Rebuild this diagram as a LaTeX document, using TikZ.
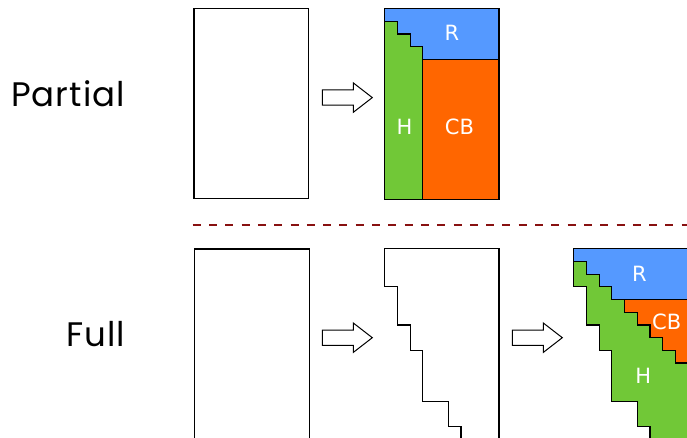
\documentclass[tikz,border=0pt]{standalone}
\usepackage{fontspec}
\setmainfont{DejaVu Sans}
\newfontfamily\handfont[LetterSpace=3]{Poppins}
\definecolor{rblue}{HTML}{5599FF}
\definecolor{cborange}{HTML}{FF6600}
\definecolor{hgreen}{HTML}{71C837}
\definecolor{sepred}{RGB}{136,17,17}

\tikzset{
  box/.style={draw=black,line width=1.2pt,line join=miter},
  blocklabel/.style={text=white,font=\fontsize{21}{21}\selectfont,inner sep=0pt},
  rowtitle/.style={font=\handfont\fontsize{34}{34}\selectfont,anchor=base east,inner sep=0pt},
  arrowline/.style={draw=black,line width=1pt,fill=white,line join=miter},
  blockarrow/.pic={
    \path[arrowline] (0,-7.6) -- (31,-7.6) -- (31,-14.7) -- (50,0)
      -- (31,14.7) -- (31,7.6) -- (0,7.6) -- cycle;
  },
  grid/.style={x=12.7pt,y=-12.7pt}
}

\begin{document}
\begin{tikzpicture}[x=1pt,y=-1pt]
  \path[use as bounding box] (0,0) rectangle (687,438);
  \clip (0,0) rectangle (687,438);

  % row titles
  \node[rowtitle] (partial) at (125,106.7) {Partial};
  \node[rowtitle] (full) at (125,346) {Full};

  % partial factorisation: input and result
  \path[box] (193.9,8.3) rectangle (308.7,198.5);
  \pic at (322.3,97.6) {blockarrow};
  \begin{scope}[shift={(384.7,8.7)},grid]
    \filldraw[box,fill=rblue] (0,0) -- (9,0) -- (9,4) -- (3,4) -- (3,3) -- (2,3)
      -- (2,2) -- (1,2) -- (1,1) -- (0,1) -- cycle;
    \filldraw[box,fill=hgreen] (0,1) -- (1,1) -- (1,2) -- (2,2) -- (2,3) -- (3,3)
      -- (3,15) -- (0,15) -- cycle;
    \filldraw[box,fill=cborange] (3,4) rectangle (9,15);
    \draw[box] (0,0) rectangle (9,15);
  \end{scope}
  \node[blocklabel] (r1) at (452,33) {R};
  \node[blocklabel] (h1) at (404.5,127) {H};
  \node[blocklabel] (cb1) at (459.5,127) {CB};

  % separator
  \draw[sepred,line width=2pt,dash pattern=on 8pt off 8.3pt] (192.7,225) -- (687,225);

  % full factorisation: input, staircase profile, result
  \path[box] (194.7,249) rectangle (309.3,460);
  \pic at (322.3,337.7) {blockarrow};
  \begin{scope}[shift={(384.7,248.7)},grid]
    \draw[box] (9,16) -- (9,0) -- (0,0) -- (0,3) -- (1,3) -- (1,6) -- (2,6) -- (2,8)
      -- (3,8) -- (3,12) -- (5,12) -- (5,14) -- (6,14) -- (6,16);
  \end{scope}
  \pic at (512.3,337.7) {blockarrow};
  \begin{scope}[shift={(573.7,248.7)},grid]
    \filldraw[box,fill=hgreen] (0,1) -- (1,1) -- (1,2) -- (2,2) -- (2,3) -- (3,3)
      -- (3,4) -- (4,4) -- (4,5) -- (5,5) -- (5,6) -- (6,6) -- (6,7) -- (7,7)
      -- (7,8) -- (8,8) -- (8,9) -- (9,9) -- (9,16) -- (6,16) -- (6,14) -- (5,14)
      -- (5,12) -- (3,12) -- (3,8) -- (2,8) -- (2,6) -- (1,6) -- (1,3) -- (0,3) -- cycle;
    \filldraw[box,fill=rblue] (0,0) -- (9,0) -- (9,4) -- (3,4) -- (3,3) -- (2,3)
      -- (2,2) -- (1,2) -- (1,1) -- (0,1) -- cycle;
    \filldraw[box,fill=cborange] (4,4) -- (9,4) -- (9,9) -- (8,9) -- (8,8) -- (7,8)
      -- (7,7) -- (6,7) -- (6,6) -- (5,6) -- (5,5) -- (4,5) -- cycle;
  \end{scope}
  \node[blocklabel] (r2) at (639.5,274.3) {R};
  \node[blocklabel] (cb2) at (666.7,321.7) {CB};
  \node[blocklabel] (h2) at (643.3,376) {H};
\end{tikzpicture}
\end{document}
